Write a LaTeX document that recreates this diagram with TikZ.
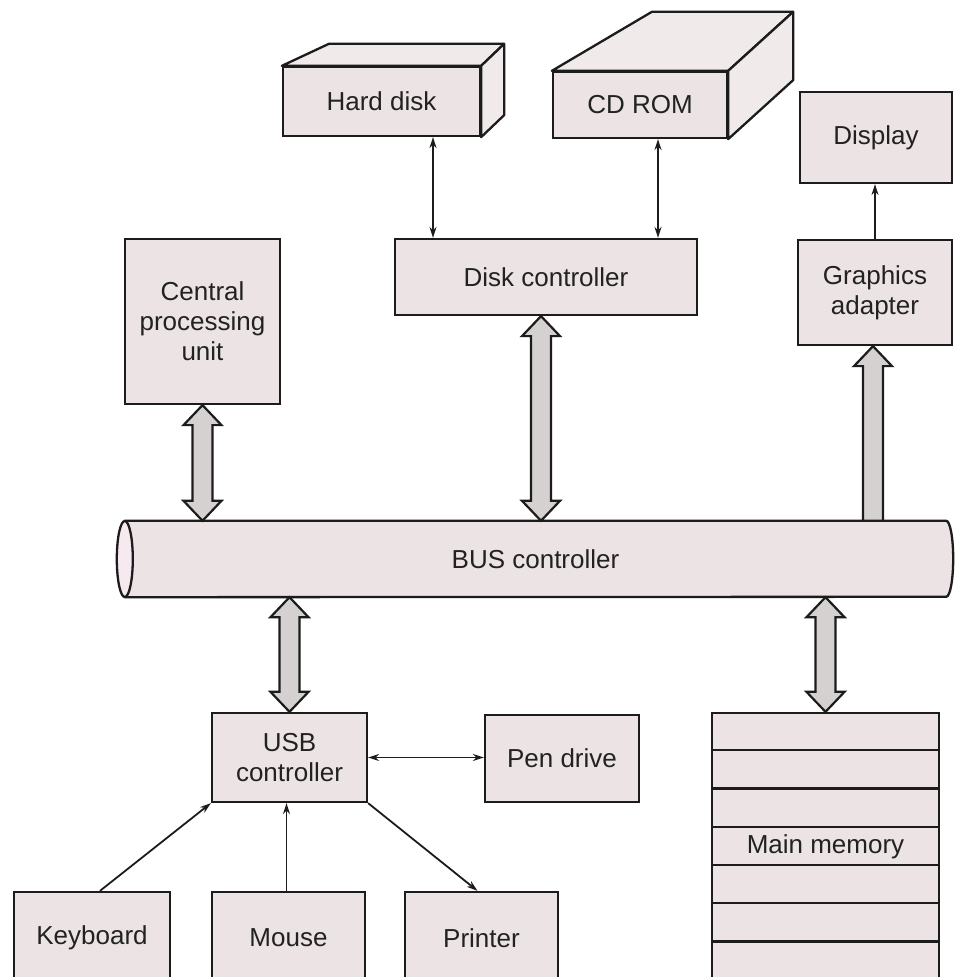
\documentclass[tikz,border=0pt]{standalone}
\usepackage{fontspec}
\setmainfont{Liberation Sans}
\usetikzlibrary{arrows.meta,calc}

\definecolor{boxfill}{HTML}{ECE4E4}
\definecolor{facefill}{HTML}{F0EAEA}
\definecolor{edge}{HTML}{1C1C1C}
\definecolor{ink}{HTML}{222222}
\definecolor{fatfill}{HTML}{D5D1D1}
\definecolor{capfill}{HTML}{F6EAF0}

\tikzset{
  x=1pt, y=1pt,
  >={Stealth[length=11pt,width=7pt]},
  label text/.style={text=ink, font=\fontsize{26}{30}\selectfont, align=center},
  unit/.style={label text, draw=edge, line width=2.3pt, fill=boxfill, inner sep=0pt},
  face/.style={draw=edge, line width=2.3pt, fill=facefill, line join=round},
  link/.style={draw=edge, line width=1.8pt},
  outline/.style={draw=edge, line width=2.3pt},
  biglink/.style={draw=edge, line width=2.2pt, fill=fatfill, line join=miter},
}

% hollow double-headed bus arrow: #1 upper tip, #2 lower tip (same x)
\newcommand\fatboth[2]{%
  \path[biglink] let \p1=#1, \p2=#2 in
    (\x1,\y1) -- ++(19pt,-20pt) -- ++(-9pt,0pt) -- (\x1+10pt,\y2+20pt)
    -- ++(9pt,0pt) -- (\x1,\y2) -- ++(-19pt,20pt) -- ++(9pt,0pt)
    -- (\x1-10pt,\y1-20pt) -- ++(-9pt,0pt) -- cycle;}
% hollow single-headed bus arrow: #1 tip, #2 flat base (same x)
\newcommand\fatup[2]{%
  \path[biglink] let \p1=#1, \p2=#2 in
    (\x1,\y1) -- ++(19pt,-20pt) -- ++(-9pt,0pt) -- (\x1+10pt,\y2)
    -- (\x1-10pt,\y2) -- (\x1-10pt,\y1-20pt) -- ++(-9pt,0pt) -- cycle;}

\begin{document}
\begin{tikzpicture}
\useasboundingbox (0,0) rectangle (954,977);
\fill[white] (0,0) rectangle (954,977);

% storage devices
\node[unit, minimum width=197pt, minimum height=69pt] (hd) at (381.5,875.5) {Hard disk};
\node[unit, minimum width=174pt, minimum height=66pt] (cd) at (640,872) {CD ROM};
\path[face] (hd.north west) -- ++(47,22) -- ($(hd.north east)+(23,22)$) -- (hd.north east) -- cycle;
\path[face] (hd.north east) -- ++(23,22) -- ($(hd.south east)+(23,22)$) -- (hd.south east) -- cycle;
\path[face] (cd.north west) -- ++(100,59) -- ($(cd.north east)+(65,59)$) -- (cd.north east) -- cycle;
\path[face] (cd.north east) -- ++(65,59) -- ($(cd.south east)+(65,59)$) -- (cd.south east) -- cycle;

% controllers and processor
\node[unit, minimum width=152pt, minimum height=91pt] (disp) at (876,839.5) {Display};
\node[unit, minimum width=154pt, minimum height=105pt] (gfx) at (875,684.5) {Graphics\\adapter};
\node[unit, minimum width=155pt, minimum height=165pt] (cpu) at (202.5,655.5) {Central\\processing\\unit};
\node[unit, minimum width=302pt, minimum height=76pt] (dc) at (546,700) {Disk controller};

% the bus, drawn as a cylinder
\node[label text, fill=boxfill, inner sep=0pt, minimum width=821pt, minimum height=76pt] (bus) at (535.5,418) {BUS controller};
\fill[boxfill] (bus.north east) arc[start angle=90, end angle=-90, x radius=7pt, y radius=38pt] -- cycle;
\draw[outline] (bus.north west) -- (bus.north east)
  arc[start angle=90, end angle=-90, x radius=7pt, y radius=38pt] -- (bus.south west);
\draw[outline, fill=capfill] (bus.west) ellipse[x radius=8pt, y radius=38pt];

% USB side
\node[unit, minimum width=155pt, minimum height=89pt] (usb) at (289.5,219.5) {USB\\controller};
\node[unit, minimum width=154pt, minimum height=87pt] (pen) at (562,218.5) {Pen drive};
\node[unit, minimum width=156pt, minimum height=92pt] (kbd) at (92,39) {Keyboard};
\node[unit, minimum width=153pt, minimum height=92pt] (mouse) at (288.5,39) {Mouse};
\node[unit, minimum width=153pt, minimum height=92pt] (prn) at (481.5,39) {Printer};

% main memory as a stack of words
\node[unit, minimum width=227pt, minimum height=268pt] (mem) at (825.5,130) {Main memory};
\foreach \k in {1,...,6}
  \draw[outline] ($(mem.north west)+(0,-38.3*\k)$) -- ($(mem.north east)+(0,-38.3*\k)$);

% wide bus connections
\fatboth{(cpu.south)}{(cpu.south |- bus.north)}
\fatboth{([xshift=-5pt]dc.south)}{([xshift=-5pt]dc.south |- bus.north)}
\fatup{([xshift=-2pt]gfx.south)}{([xshift=-2pt]gfx.south |- bus.north)}
\fatboth{(usb.north |- bus.south)}{(usb.north)}
\fatboth{(mem.north |- bus.south)}{(mem.north)}

% thin device links
\draw[link, <->] ([xshift=51.5pt]hd.south) -- ([xshift=51.5pt]hd.south |- dc.north);
\draw[link, <->] ([xshift=18pt]cd.south) -- ([xshift=18pt]cd.south |- dc.north);
\draw[link, ->] (gfx.north) -- (gfx.north |- disp.south);
\draw[link, <->] (usb.east) -- (usb.east -| pen.west);
\draw[link, ->] ([xshift=8pt]kbd.north) -- (usb.south west);
\draw[link, ->] ([xshift=-2pt]mouse.north) -- ([xshift=-2pt]mouse.north |- usb.south);
\draw[link, ->] (usb.south east) -- ([xshift=-4pt]prn.north);
\end{tikzpicture}
\end{document}
